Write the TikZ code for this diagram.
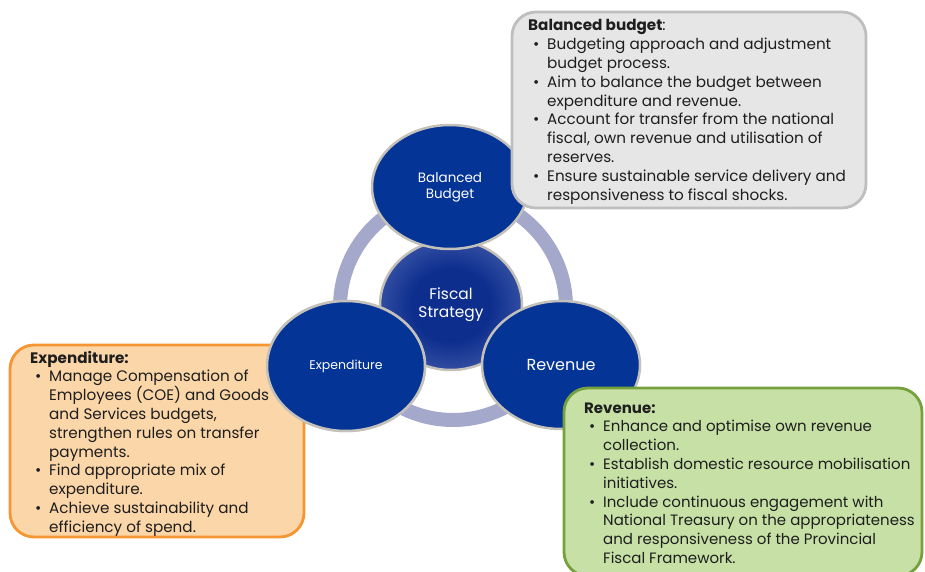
\documentclass[tikz,border=0pt]{standalone}
\usepackage{fontspec}
\setmainfont{Poppins}
\usetikzlibrary{shapes.geometric}
\definecolor{ellfill}{RGB}{3,52,150}
\definecolor{ellline}{RGB}{196,192,186}
\definecolor{ringcol}{RGB}{164,169,203}
\definecolor{fsin}{RGB}{14,46,142}
\definecolor{fsout}{RGB}{128,148,204}
\definecolor{bbfill}{RGB}{230,230,230}
\definecolor{bbline}{RGB}{190,190,190}
\definecolor{exfill}{RGB}{251,214,168}
\definecolor{exline}{RGB}{246,150,50}
\definecolor{rvfill}{RGB}{198,224,165}
\definecolor{rvline}{RGB}{118,160,60}
\definecolor{txt}{RGB}{30,30,30}
\pgfdeclareradialshading{fsshade}{\pgfpoint{0bp}{0bp}}{color(0bp)=(fsin); color(14bp)=(fsin); color(50bp)=(fsout); color(100bp)=(fsout)}
\newcommand{\bl}[1]{\makebox[19pt][l]{\hspace{5pt}\textbullet}#1\\}
\newcommand{\cl}[1]{\hspace*{19pt}#1\\}
\newcommand{\boxtext}[2]{{\fontsize{#1}{18.8}\selectfont\color{txt}\parbox[t]{380pt}{\raggedright #2}}}
\tikzset{
  ell/.style={ellipse, fill=ellfill, draw=ellline, line width=2.5pt, inner sep=0pt, text=white, align=center},
  infobox/.style={rounded corners=24pt, line width=2.8pt},
  boxlbl/.style={anchor=base west, inner sep=0pt}
}
\begin{document}
\begin{tikzpicture}[x=1pt,y=-1pt]
\useasboundingbox (0,0) rectangle (925,572);
% ring
\draw[ringcol, line width=14pt] (453,307) circle[radius=113];
% centre
\node[ellipse, minimum width=142pt, minimum height=130pt, shading=fsshade, draw=ellline, line width=2.5pt, text=white, align=center, font=\fontsize{15.4}{18}\selectfont] (fs) at (451,305) {Fiscal\\Strategy};
% three ellipses
\node[ell, minimum width=156pt, minimum height=124pt, font=\fontsize{13.5}{16}\selectfont] (bb) at (450,187) {Balanced\\Budget};
\node[ell, minimum width=158pt, minimum height=130pt, font=\fontsize{12.5}{14}\selectfont] (ex) at (346,366) {Expenditure};
\node[ell, minimum width=158pt, minimum height=128pt, font=\fontsize{16}{18}\selectfont] (rv) at (561,365) {Revenue};
% balanced budget box
\draw[infobox, fill=bbfill, draw=bbline] (512,12) rectangle (866,208);
\node[boxlbl] (bbt) at (528,31) {\boxtext{15.2}{%
\textbf{Balanced budget}:\\
\bl{Budgeting approach and adjustment}
\cl{budget process.}
\bl{Aim to balance the budget between}
\cl{expenditure and revenue.}
\bl{Account for transfer from the national}
\cl{fiscal, own revenue and utilisation of}
\cl{reserves.}
\bl{Ensure sustainable service delivery and}
\cl{responsiveness to fiscal shocks.}}};
% revenue box
\draw[infobox, fill=rvfill, draw=rvline] (564,388) rectangle (922,576);
\node[boxlbl] (rvt) at (584,413) {\boxtext{15}{%
\textbf{Revenue:}\\
\bl{Enhance and optimise own revenue}
\cl{collection.}
\bl{Establish domestic resource mobilisation}
\cl{initiatives.}
\bl{Include continuous engagement with}
\cl{National Treasury on the appropriateness}
\cl{and responsiveness of the Provincial}
\cl{Fiscal Framework.}}};
% expenditure box
\draw[infobox, fill=exfill, draw=exline] (10,345) rectangle (304,537);
\node[boxlbl] (ext) at (30,363) {\boxtext{15.2}{%
\textbf{Expenditure:}\\
\bl{Manage Compensation of}
\cl{Employees (COE) and Goods}
\cl{and Services budgets,}
\cl{strengthen rules on transfer}
\cl{payments.}
\bl{Find appropriate mix of}
\cl{expenditure.}
\bl{Achieve sustainability and}
\cl{efficiency of spend.}}};
% expenditure ellipse sits over its box
\node[ell, minimum width=158pt, minimum height=130pt, font=\fontsize{12.5}{14}\selectfont] (ex2) at (346,366) {Expenditure};
\end{tikzpicture}
\end{document}
